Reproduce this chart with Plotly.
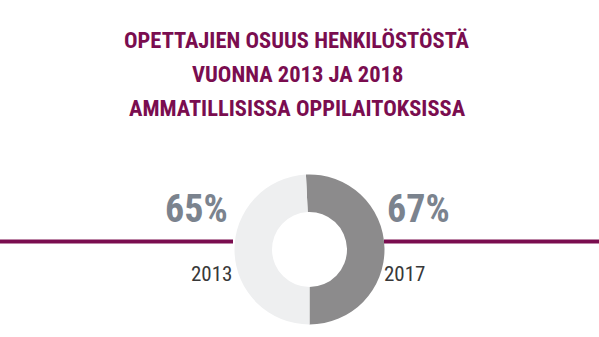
import plotly.graph_objects as go

W, H = 599, 337

# Data
years = ["2017", "2013"]
shares = [67, 65]          # opettajien osuus henkilöstöstä, %
slice_colors = ["#8c8b8c", "#eeeff0"]
title_lines = [
    "OPETTAJIEN OSUUS HENKILÖSTÖSTÄ",
    "VUONNA 2013 JA 2018",
    "AMMATILLISISSA OPPILAITOKSISSA",
]

MAROON = "#7a0d4f"
SLATE = "#7b838e"
DARK = "#383838"
FONT = "Roboto Condensed, Open Sans Condensed, DejaVu Sans Condensed, sans-serif"


def px(x):
    return x / W


def py(y):
    return 1 - y / H


# donut geometry (pixels)
cx, cy, r = 309.5, 249.5, 75
# first (dark) slice ends exactly at 6 o'clock
first_deg = shares[0] / sum(shares) * 360
rotation = 180 - first_deg

fig = go.Figure(
    go.Pie(
        labels=years,
        values=shares,
        hole=0.5,
        sort=False,
        direction="clockwise",
        rotation=rotation,
        marker=dict(colors=slice_colors, line=dict(width=0)),
        textinfo="none",
        hoverinfo="skip",
        showlegend=False,
        domain=dict(x=[px(cx - r), px(cx + r)], y=[py(cy + r), py(cy - r)]),
    )
)

line_y = py(241.5)
shapes = [
    dict(type="line", xref="paper", yref="paper", x0=0, x1=px(233), y0=line_y, y1=line_y,
         line=dict(color=MAROON, width=4)),
    dict(type="line", xref="paper", yref="paper", x0=px(384), x1=1, y0=line_y, y1=line_y,
         line=dict(color=MAROON, width=4)),
]

annotations = []
for i, t in enumerate(title_lines):
    annotations.append(dict(
        text=f"<b>{t}</b>", x=px(297), y=py(40.5 + 33.5 * i), xref="paper", yref="paper",
        xanchor="center", yanchor="middle", showarrow=False,
        font=dict(family=FONT, size=22.5, color=MAROON),
    ))

# percentage labels
for val, x in [(shares[1], 196.5), (shares[0], 418.5)]:
    annotations.append(dict(
        text=f"<b>{val}%</b>", x=px(x), y=py(209), xref="paper", yref="paper",
        xanchor="center", yanchor="middle", showarrow=False,
        font=dict(family=FONT, size=38, color=SLATE),
    ))

# year labels
for yr, x in [(years[1], 212), (years[0], 404)]:
    annotations.append(dict(
        text=yr, x=px(x), y=py(274), xref="paper", yref="paper",
        xanchor="center", yanchor="middle", showarrow=False,
        font=dict(family=FONT, size=21, color=DARK),
    ))

fig.update_layout(
    width=W, height=H,
    margin=dict(l=0, r=0, t=0, b=0),
    paper_bgcolor="white", plot_bgcolor="white",
    shapes=shapes, annotations=annotations,
)

fig.write_html("out.html", config={"displayModeBar": False})
